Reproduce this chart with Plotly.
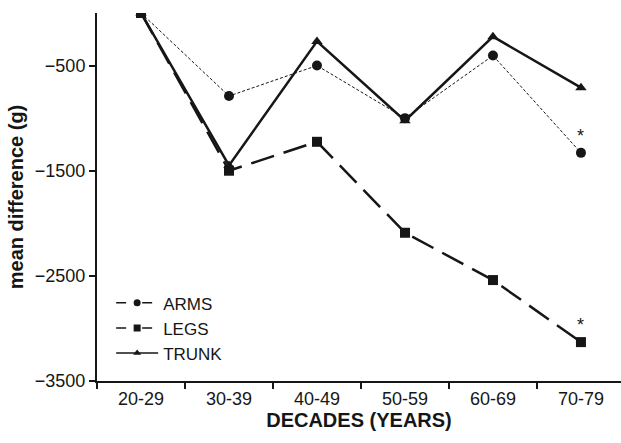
import plotly.graph_objects as go

decades = ["20-29", "30-39", "40-49", "50-59", "60-69", "70-79"]
arms = [0, -790, -500, -1000, -405, -1330]
legs = [0, -1500, -1225, -2090, -2540, -3130]
trunk = [0, -1450, -270, -1025, -225, -710]
y_ticks = [-500, -1500, -2500, -3500]
star_series = [("ARMS", 5, -1330), ("LEGS", 5, -3130)]

INK = "#161616"

fig = go.Figure()
fig.add_trace(go.Scatter(x=decades, y=arms, name="ARMS", mode="lines+markers", showlegend=False,
                         line=dict(color=INK, width=1, dash="3px,2px"),
                         marker=dict(symbol="circle", size=10, color=INK)))
fig.add_trace(go.Scatter(x=decades, y=legs, name="LEGS", mode="lines+markers", showlegend=False,
                         line=dict(color=INK, width=2.5, dash="24px,10px"),
                         marker=dict(symbol="square", size=10, color=INK)))
fig.add_trace(go.Scatter(x=decades, y=trunk, name="TRUNK", mode="lines+markers", showlegend=False,
                         line=dict(color=INK, width=2.5),
                         marker=dict(symbol="triangle-up", size=10, color=INK)))

# legend-only entries (the reference legend draws ARMS and LEGS with the same dash pattern)
legend_styles = [("ARMS", "circle", "10px,16px"), ("LEGS", "square", "10px,16px"), ("TRUNK", "triangle-up", "solid")]
for name, sym, dash in legend_styles:
    fig.add_trace(go.Scatter(x=[None], y=[None], name=name, mode="lines+markers",
                             line=dict(color=INK, width=1.5, dash=dash),
                             marker=dict(symbol=sym, size=7, color=INK)))

for name, xi, yv in star_series:
    fig.add_annotation(x=decades[xi], y=yv, text="*", showarrow=False, yshift=17,
                       font=dict(size=18, color=INK, family="Liberation Sans"))

fig.update_layout(
    width=621, height=443,
    margin=dict(l=97, r=0, t=13, b=62),
    plot_bgcolor="white", paper_bgcolor="white",
    font=dict(family="Liberation Sans, Arial, sans-serif", size=18, color=INK),
    showlegend=True,
    legend=dict(x=0.027, y=0.26, xanchor="left", yanchor="top", bgcolor="rgba(0,0,0,0)",
                font=dict(size=17), tracegroupgap=0, itemwidth=42),
    xaxis=dict(range=[-0.5, 5.455], showline=True, linecolor=INK, linewidth=2,
               ticks="outside", tickson="boundaries", ticklen=6, tickwidth=1.5, tickcolor=INK,
               showgrid=False, zeroline=False, tickfont=dict(size=18),
               title=dict(text="<b>DECADES (YEARS)</b>", font=dict(size=20), standoff=4)),
    yaxis=dict(range=[-3500, 0], tickvals=y_ticks, showline=True, linecolor=INK, linewidth=2,
               ticks="outside", ticklen=6, tickwidth=1.5, tickcolor=INK,
               showgrid=False, zeroline=False, tickfont=dict(size=18),
               title=dict(text="<b>mean difference (g)</b>", font=dict(size=20), standoff=6)),
)

fig.write_html("out.html")
